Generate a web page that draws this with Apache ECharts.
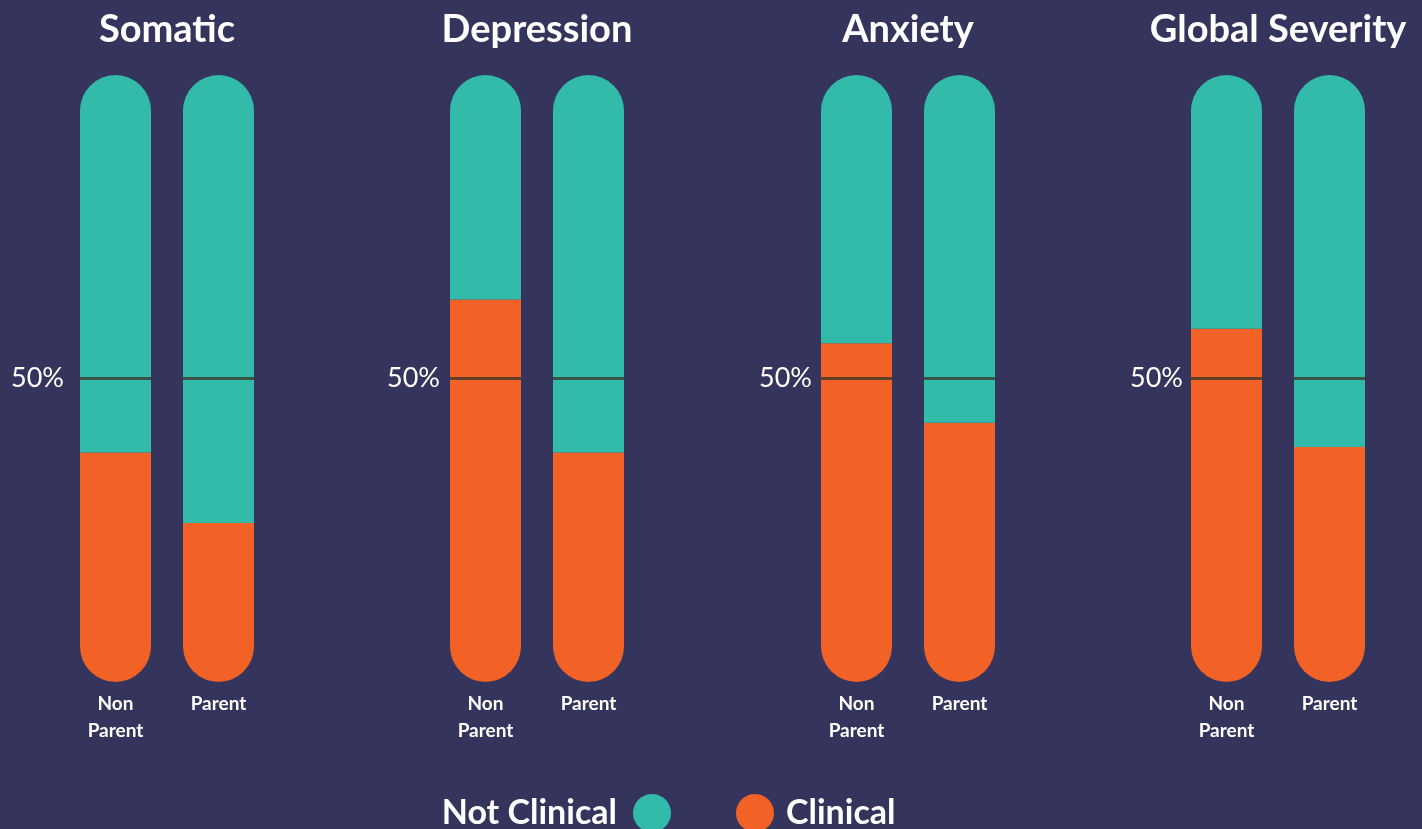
<!DOCTYPE html>
<html>
<head>
<meta charset="utf-8">
<script src="https://cdn.jsdelivr.net/npm/echarts@6/dist/echarts.min.js"></script>
<style>
  html, body { margin: 0; padding: 0; background: #34345c; }
  #chart { width: 1422px; height: 829px; }
</style>
</head>
<body>
<div id="chart"></div>
<script>
// Share of respondents scoring in the clinical range, by scale and group (%)
const scales = ['Somatic', 'Depression', 'Anxiety', 'Global Severity'];
const groups = ['Non\nParent', 'Parent'];
const clinicalNonParent = [37.8, 63.0, 55.8, 58.2];
const clinicalParent = [26.2, 37.8, 42.7, 38.7];
const notClinicalNonParent = [62.2, 37.0, 44.2, 41.8];
const notClinicalParent = [73.8, 62.2, 57.3, 61.3];
const midline = [50, 50];
const yTicks = ['50%'];

const BG = '#34345c';
const TEAL = '#33bbaa';
const ORANGE = '#f26125';
const FONT = 'Lato';
const BAR_W = 71;
const R = BAR_W / 2;

const gridLefts = [64, 434, 805, 1175];
const labelMargins = [0, -6, -7, -8];
const GRID_W = 206;

const grids = [], xAxes = [], yAxes = [], series = [], titles = [];

scales.forEach((name, i) => {
  grids.push({ left: gridLefts[i], top: 75, width: GRID_W, height: 607 });
  titles.push({
    text: name,
    left: gridLefts[i] + GRID_W / 2,
    top: 11,
    padding: 0,
    textAlign: 'center',
    textStyle: { color: '#ffffff', fontFamily: FONT, fontWeight: 'bold', fontSize: 38 }
  });
  xAxes.push({
    type: 'category', gridIndex: i, data: groups,
    axisLine: { show: false }, axisTick: { show: false },
    axisLabel: {
      color: '#ffffff', fontFamily: FONT, fontWeight: 'bold', fontSize: 19,
      lineHeight: 27, margin: 8
    }
  });
  yAxes.push({
    type: 'value', gridIndex: i, min: 0, max: 100, interval: 50,
    splitLine: { show: false }, axisLine: { show: false }, axisTick: { show: false },
    axisLabel: {
      color: '#ffffff', fontFamily: FONT, fontSize: 27, margin: labelMargins[i],
      formatter: v => (v === 50 ? yTicks[0] : '')
    }
  });
  series.push({
    name: 'Clinical', type: 'bar', stack: 's' + i,
    xAxisIndex: i, yAxisIndex: i, barWidth: BAR_W,
    itemStyle: { color: ORANGE, borderRadius: [0, 0, R, R] },
    data: [clinicalNonParent[i], clinicalParent[i]]
  });
  series.push({
    name: 'Not Clinical', type: 'bar', stack: 's' + i,
    xAxisIndex: i, yAxisIndex: i, barWidth: BAR_W,
    itemStyle: { color: TEAL, borderRadius: [R, R, 0, 0] },
    data: [notClinicalNonParent[i], notClinicalParent[i]]
  });
  // 50% reference mark across each bar
  series.push({
    name: 'midline', type: 'scatter', xAxisIndex: i, yAxisIndex: i,
    symbol: 'rect', symbolSize: [BAR_W, 3], z: 5, silent: true,
    itemStyle: { color: '#3b3a2a' },
    data: midline
  });
});

const legendText = { color: '#ffffff', fontFamily: FONT, fontWeight: 'bold', fontSize: 34 };

const chart = echarts.init(document.getElementById('chart'), null, { renderer: 'canvas' });
chart.setOption({
  backgroundColor: BG,
  animation: false,
  title: titles,
  grid: grids,
  xAxis: xAxes,
  yAxis: yAxes,
  legend: [
    {
      data: ['Not Clinical'], right: 1422 - 671, top: 794, padding: 0,
      icon: 'circle', itemWidth: 38, itemHeight: 38, align: 'right',
      selectedMode: false,
      textStyle: Object.assign({ padding: [0, 11, 0, 0] }, legendText)
    },
    {
      data: ['Clinical'], left: 736, top: 794, padding: 0,
      icon: 'circle', itemWidth: 38, itemHeight: 38, align: 'left',
      selectedMode: false,
      textStyle: Object.assign({ padding: [0, 0, 0, 7] }, legendText)
    }
  ],
  series: series
});
</script>
</body>
</html>
